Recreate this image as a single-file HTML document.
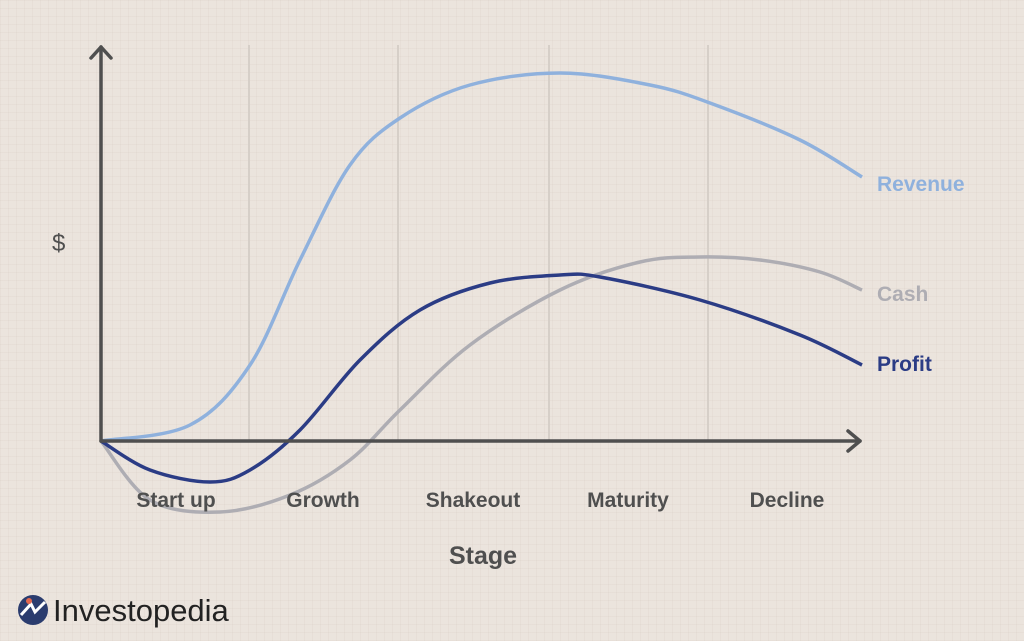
<!DOCTYPE html>
<html><head><style>
html,body{margin:0;padding:0}
body{width:1024px;height:641px;overflow:hidden;background-color:#ebe4dd;
background-image:linear-gradient(rgba(200,190,180,.13) 1px,transparent 1px),linear-gradient(90deg,rgba(200,190,180,.13) 1px,transparent 1px);
background-size:8px 8px;font-family:"Liberation Sans",sans-serif}
</style></head><body>
<svg width="1024" height="641" style="position:absolute;left:0;top:0">
<g stroke="#d6cfc8" stroke-width="2">
<line x1="249" y1="45" x2="249" y2="441"/><line x1="398" y1="45" x2="398" y2="441"/>
<line x1="549" y1="45" x2="549" y2="441"/><line x1="708" y1="45" x2="708" y2="441"/>
</g>
<path id="rev" fill="none" stroke="#8fb1dd" stroke-width="3.5"/>
<path id="cash" fill="none" stroke="#aeadb3" stroke-width="3.5"/>
<path id="prof" fill="none" stroke="#2b3c85" stroke-width="3.5"/>
<g stroke="#4f4f4f" stroke-width="3.5" fill="none" stroke-linecap="round" stroke-linejoin="round">
<line x1="101" y1="47" x2="101" y2="441"/><polyline points="91,58 101,47 111,58"/>
<line x1="101" y1="441" x2="860" y2="441"/><polyline points="848,431 860,441 848,451"/>
</g>
<g font-family="Liberation Sans" font-weight="bold" font-size="21" fill="#4f4f4f">
<text x="176" y="507" text-anchor="middle">Start up</text>
<text x="323" y="507" text-anchor="middle">Growth</text>
<text x="473" y="507" text-anchor="middle">Shakeout</text>
<text x="628" y="507" text-anchor="middle">Maturity</text>
<text x="787" y="507" text-anchor="middle">Decline</text>
<text x="483" y="564" text-anchor="middle" font-size="25">Stage</text>
<text x="52" y="251" font-weight="normal" font-size="24">$</text>
<text x="877" y="191" fill="#8fb1dd">Revenue</text>
<text x="877" y="301" fill="#aeadb3">Cash</text>
<text x="877" y="371" fill="#2b3c85">Profit</text>
</g>
<circle cx="33" cy="610" r="15" fill="#2b3c6e"/>
<path d="M21,615 L31,604 L35,612 L45,602" stroke="#fff" stroke-width="3" fill="none"/>
<circle cx="29" cy="601" r="3" fill="#e4684f"/>
<text x="53" y="621" font-family="Liberation Sans" font-size="31" fill="#222">Investopedia</text>
</svg>
<script>
function cr(p){let d="M"+p[0][0]+","+p[0][1];for(let i=0;i<p.length-1;i++){const a=p[Math.max(0,i-1)],b=p[i],c=p[i+1],e=p[Math.min(p.length-1,i+2)];
d+=" C"+(b[0]+(c[0]-a[0])/6)+","+(b[1]+(c[1]-a[1])/6)+" "+(c[0]-(e[0]-b[0])/6)+","+(c[1]-(e[1]-b[1])/6)+" "+c[0]+","+c[1];}return d;}
document.getElementById("rev").setAttribute("d",cr([[101,441],[190,425],[250,365],[300,260],[350,165],[400,118],[470,85],[560,73],[650,85],[710,103],[800,140],[862,177]]));
document.getElementById("cash").setAttribute("d",cr([[101,441],[150,500],[220,512],[290,495],[350,460],[400,410],[470,345],[560,290],[640,262],[700,257],[760,260],[820,272],[862,290]]));
document.getElementById("prof").setAttribute("d",cr([[101,441],[150,470],[210,482],[250,470],[300,430],[360,360],[420,310],[490,283],[560,275],[600,277],[700,300],[800,335],[862,365]]));
</script>
</body></html>
